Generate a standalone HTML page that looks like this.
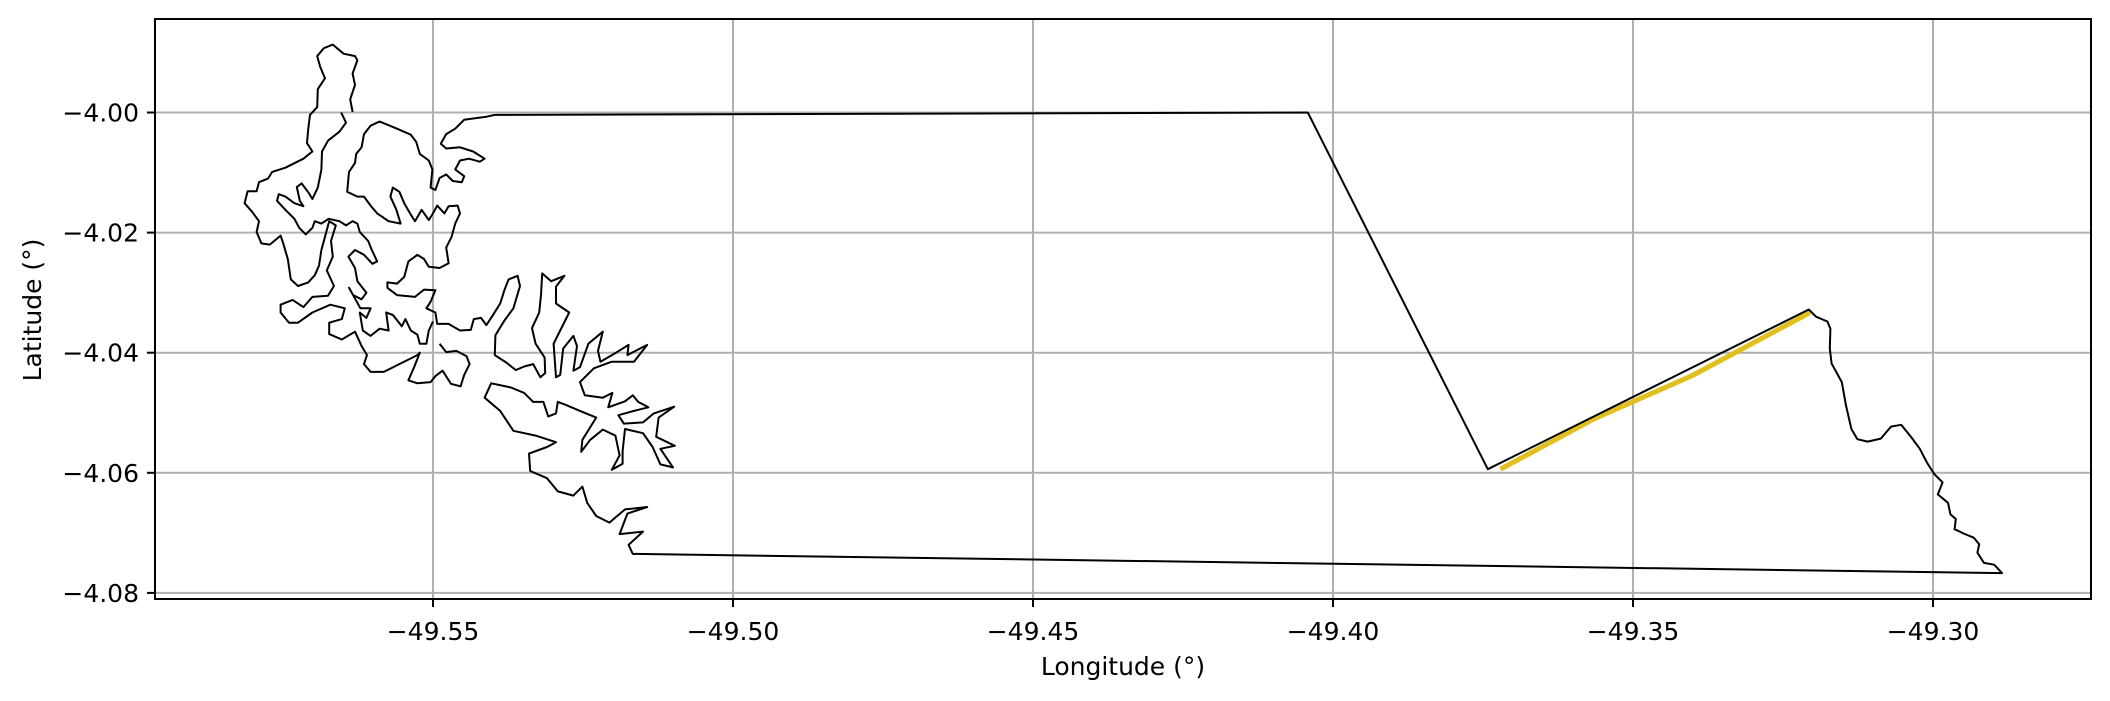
<!DOCTYPE html>
<html><head><meta charset="utf-8"><style>
html,body{margin:0;padding:0;background:#fff;}
svg{display:block;font-family:"DejaVu Sans","Liberation Sans",sans-serif;}
</style></head><body>
<svg id="chart" width="2110" height="701" viewBox="0 0 2110 701" xmlns="http://www.w3.org/2000/svg">
<rect x="0" y="0" width="2110" height="701" fill="#fff"/>
<g id="grid"></g>
<g id="marks"></g>
<rect x="155" y="19" width="1936" height="580" fill="none" stroke="#000" stroke-width="2"/>
<g id="ticks"></g>
<text x="1123" y="675" font-size="25" text-anchor="middle">Longitude (°)</text>
<text x="41" y="310" font-size="25" text-anchor="middle" transform="rotate(-90 41 310)">Latitude (°)</text>
</svg>
<script>
const xTicks=[-49.55,-49.50,-49.45,-49.40,-49.35,-49.30];
const xTickLabels=["−49.55","−49.50","−49.45","−49.40","−49.35","−49.30"];
const yTicks=[-4.00,-4.02,-4.04,-4.06,-4.08];
const yTickLabels=["−4.00","−4.02","−4.04","−4.06","−4.08"];
// main boundary ring [lon,lat]
const boundary=[[-49.5397,-4.0004],[-49.5411,-4.0007],[-49.5433,-4.0010],[-49.5448,-4.0012],[-49.5463,-4.0027],[-49.5478,-4.0036],[-49.5487,-4.0052],[-49.5478,-4.0060],[-49.5455,-4.0058],[-49.5433,-4.0065],[-49.5414,-4.0077],[-49.5422,-4.0082],[-49.5440,-4.0077],[-49.5455,-4.0080],[-49.5463,-4.0095],[-49.5448,-4.0106],[-49.5452,-4.0116],[-49.5467,-4.0114],[-49.5478,-4.0103],[-49.5489,-4.0109],[-49.5496,-4.0129],[-49.5504,-4.0125],[-49.5501,-4.0095],[-49.5507,-4.0080],[-49.5522,-4.0069],[-49.5528,-4.0049],[-49.5537,-4.0037],[-49.5560,-4.0027],[-49.5589,-4.0015],[-49.5604,-4.0022],[-49.5615,-4.0036],[-49.5619,-4.0058],[-49.5628,-4.0069],[-49.5630,-4.0084],[-49.5640,-4.0099],[-49.5643,-4.0132],[-49.5626,-4.0140],[-49.5615,-4.0140],[-49.5604,-4.0155],[-49.5593,-4.0168],[-49.5574,-4.0181],[-49.5554,-4.0185],[-49.5561,-4.0162],[-49.5571,-4.0140],[-49.5567,-4.0125],[-49.5556,-4.0132],[-49.5548,-4.0151],[-49.5537,-4.0170],[-49.5530,-4.0181],[-49.5519,-4.0162],[-49.5507,-4.0179],[-49.5500,-4.0168],[-49.5493,-4.0155],[-49.5481,-4.0168],[-49.5474,-4.0156],[-49.5459,-4.0155],[-49.5455,-4.0168],[-49.5463,-4.0185],[-49.5469,-4.0207],[-49.5478,-4.0225],[-49.5474,-4.0251],[-49.5489,-4.0259],[-49.5507,-4.0257],[-49.5515,-4.0244],[-49.5526,-4.0237],[-49.5541,-4.0248],[-49.5548,-4.0274],[-49.5560,-4.0285],[-49.5576,-4.0283],[-49.5576,-4.0292],[-49.5560,-4.0304],[-49.5530,-4.0307],[-49.5515,-4.0295],[-49.5496,-4.0296],[-49.5504,-4.0315],[-49.5511,-4.0326],[-49.5496,-4.0333],[-49.5493,-4.0352],[-49.5474,-4.0352],[-49.5455,-4.0363],[-49.5437,-4.0362],[-49.5432,-4.0344],[-49.5420,-4.0342],[-49.5411,-4.0354],[-49.5400,-4.0337],[-49.5388,-4.0318],[-49.5381,-4.0296],[-49.5374,-4.0278],[-49.5359,-4.0272],[-49.5355,-4.0289],[-49.5366,-4.0326],[-49.5382,-4.0348],[-49.5396,-4.0371],[-49.5397,-4.0404],[-49.5377,-4.0417],[-49.5362,-4.0429],[-49.5348,-4.0423],[-49.5333,-4.0419],[-49.5321,-4.0441],[-49.5313,-4.0434],[-49.5314,-4.0408],[-49.5329,-4.0385],[-49.5335,-4.0359],[-49.5323,-4.0333],[-49.5320,-4.0304],[-49.5318,-4.0268],[-49.5303,-4.0281],[-49.5281,-4.0272],[-49.5295,-4.0290],[-49.5295,-4.0318],[-49.5273,-4.0333],[-49.5288,-4.0363],[-49.5299,-4.0385],[-49.5295,-4.0441],[-49.5288,-4.0437],[-49.5283,-4.0393],[-49.5266,-4.0372],[-49.5260,-4.0389],[-49.5266,-4.0430],[-49.5255,-4.0424],[-49.5241,-4.0385],[-49.5217,-4.0365],[-49.5225,-4.0397],[-49.5221,-4.0415],[-49.5195,-4.0400],[-49.5174,-4.0387],[-49.5176,-4.0404],[-49.5143,-4.0387],[-49.5165,-4.0415],[-49.5202,-4.0415],[-49.5232,-4.0426],[-49.5255,-4.0449],[-49.5247,-4.0471],[-49.5217,-4.0475],[-49.5201,-4.0467],[-49.5208,-4.0491],[-49.5180,-4.0481],[-49.5167,-4.0471],[-49.5158,-4.0482],[-49.5141,-4.0491],[-49.5165,-4.0497],[-49.5191,-4.0504],[-49.5182,-4.0518],[-49.5150,-4.0516],[-49.5132,-4.0501],[-49.5098,-4.0490],[-49.5124,-4.0508],[-49.5128,-4.0540],[-49.5097,-4.0555],[-49.5121,-4.0560],[-49.5100,-4.0591],[-49.5121,-4.0586],[-49.5134,-4.0557],[-49.5150,-4.0534],[-49.5180,-4.0527],[-49.5184,-4.0564],[-49.5184,-4.0585],[-49.5202,-4.0595],[-49.5189,-4.0571],[-49.5196,-4.0538],[-49.5217,-4.0528],[-49.5238,-4.0545],[-49.5253,-4.0565],[-49.5251,-4.0545],[-49.5228,-4.0508],[-49.5255,-4.0497],[-49.5281,-4.0486],[-49.5292,-4.0482],[-49.5295,-4.0501],[-49.5308,-4.0506],[-49.5316,-4.0482],[-49.5333,-4.0482],[-49.5348,-4.0467],[-49.5370,-4.0458],[-49.5403,-4.0451],[-49.5414,-4.0475],[-49.5388,-4.0497],[-49.5366,-4.0530],[-49.5329,-4.0538],[-49.5295,-4.0549],[-49.5310,-4.0557],[-49.5340,-4.0568],[-49.5338,-4.0597],[-49.5310,-4.0609],[-49.5292,-4.0631],[-49.5266,-4.0638],[-49.5251,-4.0623],[-49.5243,-4.0650],[-49.5228,-4.0672],[-49.5206,-4.0683],[-49.5180,-4.0661],[-49.5143,-4.0657],[-49.5176,-4.0668],[-49.5189,-4.0702],[-49.5150,-4.0698],[-49.5174,-4.0720],[-49.5167,-4.0735],
[-49.2885,-4.0767],[-49.2898,-4.0753],[-49.2915,-4.0750],[-49.2926,-4.0733],[-49.2923,-4.0719],[-49.2932,-4.0708],[-49.2949,-4.0701],[-49.2964,-4.0694],[-49.2962,-4.0677],[-49.2971,-4.0669],[-49.2975,-4.0650],[-49.2992,-4.0636],[-49.2984,-4.0616],[-49.2998,-4.0602],[-49.3010,-4.0583],[-49.3022,-4.0560],[-49.3036,-4.0541],[-49.3053,-4.0520],[-49.3070,-4.0523],[-49.3087,-4.0543],[-49.3109,-4.0548],[-49.3126,-4.0544],[-49.3136,-4.0527],[-49.3145,-4.0488],[-49.3152,-4.0449],[-49.3169,-4.0418],[-49.3172,-4.0393],[-49.3171,-4.0360],[-49.3176,-4.0348],[-49.3195,-4.0340],[-49.3207,-4.0328],
[-49.3742,-4.0594],[-49.4042,-4.0000],[-49.5397,-4.0004]];
const westCoast=[[-49.5634,-3.9999],[-49.5638,-3.9978],[-49.5630,-3.9954],[-49.5634,-3.9935],[-49.5626,-3.9913],[-49.5630,-3.9906],[-49.5649,-3.9902],[-49.5667,-3.9887],[-49.5682,-3.9893],[-49.5693,-3.9906],[-49.5688,-3.9924],[-49.5680,-3.9943],[-49.5692,-3.9961],[-49.5693,-3.9991],[-49.5705,-4.0004],[-49.5708,-4.0028],[-49.5710,-4.0051],[-49.5701,-4.0065],[-49.5716,-4.0077],[-49.5746,-4.0092],[-49.5768,-4.0099],[-49.5775,-4.0110],[-49.5790,-4.0116],[-49.5794,-4.0131],[-49.5809,-4.0131],[-49.5814,-4.0151],[-49.5801,-4.0166],[-49.5790,-4.0181],[-49.5794,-4.0199],[-49.5786,-4.0218],[-49.5772,-4.0220],[-49.5754,-4.0205],[-49.5749,-4.0220],[-49.5742,-4.0244],[-49.5737,-4.0278],[-49.5725,-4.0289],[-49.5708,-4.0283],[-49.5697,-4.0271],[-49.5690,-4.0255],[-49.5686,-4.0229],[-49.5680,-4.0207],[-49.5673,-4.0181],[-49.5662,-4.0188],[-49.5670,-4.0214],[-49.5667,-4.0240],[-49.5677,-4.0263],[-49.5665,-4.0289],[-49.5675,-4.0305],[-49.5701,-4.0307],[-49.5716,-4.0324],[-49.5734,-4.0312],[-49.5754,-4.0320],[-49.5754,-4.0333],[-49.5740,-4.0350],[-49.5725,-4.0350],[-49.5701,-4.0333],[-49.5671,-4.0320],[-49.5647,-4.0326],[-49.5652,-4.0344],[-49.5673,-4.0350],[-49.5673,-4.0369],[-49.5652,-4.0378],[-49.5630,-4.0365],[-49.5619,-4.0389],[-49.5610,-4.0404],[-49.5615,-4.0419],[-49.5604,-4.0432],[-49.5582,-4.0432],[-49.5552,-4.0417],[-49.5526,-4.0404],[-49.5522,-4.0400],[-49.5531,-4.0423],[-49.5541,-4.0446],[-49.5526,-4.0451],[-49.5504,-4.0449],[-49.5496,-4.0439],[-49.5484,-4.0430],[-49.5470,-4.0452],[-49.5454,-4.0456],[-49.5448,-4.0437],[-49.5439,-4.0419],[-49.5444,-4.0406],[-49.5461,-4.0397],[-49.5478,-4.0399],[-49.5489,-4.0385]];
const innerCoast=[[-49.5653,-4.0000],[-49.5645,-4.0017],[-49.5656,-4.0032],[-49.5675,-4.0047],[-49.5685,-4.0065],[-49.5686,-4.0095],[-49.5692,-4.0125],[-49.5701,-4.0144],[-49.5707,-4.0134],[-49.5719,-4.0118],[-49.5727,-4.0124],[-49.5722,-4.0147],[-49.5716,-4.0156],[-49.5731,-4.0151],[-49.5746,-4.0140],[-49.5757,-4.0136],[-49.5760,-4.0147],[-49.5746,-4.0162],[-49.5731,-4.0177],[-49.5723,-4.0192],[-49.5712,-4.0203],[-49.5701,-4.0192],[-49.5697,-4.0181],[-49.5686,-4.0185],[-49.5674,-4.0177],[-49.5656,-4.0181],[-49.5645,-4.0188],[-49.5634,-4.0181],[-49.5626,-4.0185],[-49.5622,-4.0199],[-49.5608,-4.0214],[-49.5602,-4.0229],[-49.5593,-4.0248],[-49.5601,-4.0252],[-49.5615,-4.0237],[-49.5630,-4.0229],[-49.5641,-4.0240],[-49.5630,-4.0259],[-49.5626,-4.0281],[-49.5611,-4.0300],[-49.5619,-4.0311],[-49.5633,-4.0304],[-49.5640,-4.0292],[-49.5621,-4.0326],[-49.5604,-4.0326],[-49.5611,-4.0342],[-49.5622,-4.0333],[-49.5617,-4.0363],[-49.5604,-4.0372],[-49.5589,-4.0360],[-49.5574,-4.0363],[-49.5578,-4.0333],[-49.5567,-4.0337],[-49.5552,-4.0356],[-49.5546,-4.0344],[-49.5537,-4.0363],[-49.5526,-4.0370],[-49.5522,-4.0385],[-49.5511,-4.0385],[-49.5507,-4.0363],[-49.5500,-4.0348]];
const routeLon=[-49.3721,-49.3565,-49.3401,-49.3205];
const routeLat=[-4.0594,-4.0510,-4.0438,-4.0333];

const NS="http://www.w3.org/2000/svg";
const L=155,R=2091,T=19,B=599;
function X(lon){return 433+(lon+49.55)*6000;}
function Y(lat){return 112.5-(lat+4.00)*6005;}
function mk(tag,attrs,parent){const e=document.createElementNS(NS,tag);for(const k in attrs)e.setAttribute(k,attrs[k]);parent.appendChild(e);return e;}
const grid=document.getElementById('grid'),marks=document.getElementById('marks'),ticks=document.getElementById('ticks');
xTicks.forEach((v,i)=>{
  const x=X(v);
  const g=mk('line',{x1:x,x2:x,y1:T,y2:B,stroke:'#b0b0b0','stroke-width':2},grid);
  
  
  const t=mk('line',{x1:x,x2:x,y1:B,y2:B+8,stroke:'#000','stroke-width':2},ticks);
  
  
  const tx=mk('text',{x:x,y:640,'font-size':25,'text-anchor':'middle'},ticks);
  tx.textContent=xTickLabels[i];
  
  
});
yTicks.forEach((v,i)=>{
  const y=Y(v);
  const g=mk('line',{x1:L,x2:R,y1:y,y2:y,stroke:'#b0b0b0','stroke-width':2},grid);
  
  
  const t=mk('line',{x1:L-8,x2:L,y1:y,y2:y,stroke:'#000','stroke-width':2},ticks);
  
  
  const tx=mk('text',{x:L-16,y:y+9,'font-size':25,'text-anchor':'end'},ticks);
  tx.textContent=yTickLabels[i];
  
  
});
function pathFrom(pts){return pts.map((p,i)=>(i?'L':'M')+X(p[0]).toFixed(1)+' '+Y(p[1]).toFixed(1)).join(' ');}
const rd=routeLon.map((v,i)=>(i?'L':'M')+X(v).toFixed(1)+' '+Y(routeLat[i]).toFixed(1)).join(' ');
const route=mk('path',{d:rd,fill:'none',stroke:'#e0bf1f','stroke-width':5,'stroke-linejoin':'round'},marks);


const b=mk('path',{d:pathFrom(boundary),fill:'none',stroke:'#000','stroke-width':2,'stroke-linejoin':'round'},marks);


const w=mk('path',{d:pathFrom(westCoast),fill:'none',stroke:'#000','stroke-width':2,'stroke-linejoin':'round'},marks);


const ic=mk('path',{d:pathFrom(innerCoast),fill:'none',stroke:'#000','stroke-width':2,'stroke-linejoin':'round'},marks);


</script>
</body></html>
